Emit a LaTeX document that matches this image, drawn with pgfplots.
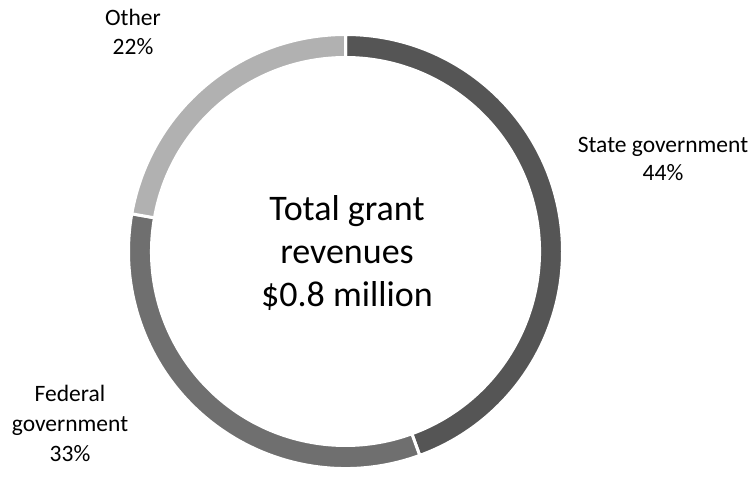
\documentclass[border=0pt]{standalone}
\usepackage{pgfplots}
\pgfplotsset{compat=1.18}
\usepackage{pgfplotstable}
\usetikzlibrary{calc}
\usepackage{fontspec}
\setmainfont{Carlito}
\definecolor{cState}{HTML}{555555}
\definecolor{cFederal}{HTML}{6F6F6F}
\definecolor{cOther}{HTML}{B1B1B1}
\pgfplotstableread[col sep=comma]{
name,share
State government,44.4
Federal government,33.3
Other,22.2
}\grants
\def\cx{345.5}\def\cy{218.5}\def\ro{217}\def\ri{194}
\newcommand\seg[3]{%
  \filldraw[fill=#3, draw=white, line width=3pt]
    ($(axis cs:\cx,\cy)+(#1:\ro pt)$) arc[start angle=#1, end angle=#2, radius=\ro pt]
    -- ($(axis cs:\cx,\cy)+(#2:\ri pt)$) arc[start angle=#2, end angle=#1, radius=\ri pt] -- cycle;}
\begin{document}
\begin{tikzpicture}
\pgfplotstablegetelem{0}{share}\of\grants \let\vA\pgfplotsretval
\pgfplotstablegetelem{1}{share}\of\grants \let\vB\pgfplotsretval
\pgfplotstablegetelem{2}{share}\of\grants \let\vC\pgfplotsretval
\pgfmathsetmacro{\tot}{\vA+\vB+\vC}
\pgfmathsetmacro{\aA}{90}
\pgfmathsetmacro{\aB}{\aA-360*\vA/\tot}
\pgfmathsetmacro{\aC}{\aB-360*\vB/\tot}
\pgfmathsetmacro{\aD}{\aC-360*\vC/\tot}
\begin{axis}[
  scale only axis, width=755pt, height=470pt,
  xmin=0, xmax=755, ymin=0, ymax=470,
  hide axis, clip=false,
]
\path (axis cs:0,0) rectangle (axis cs:755,470);
\seg{\aA}{\aB}{cState}
\seg{\aB}{\aC}{cFederal}
\seg{\aC}{\aD}{cOther}
\node[align=center, font=\fontsize{36}{43}\selectfont, text=black] at (axis cs:347,217)
  {Total grant\\revenues\\\$0.8 million};
\node[align=center, font=\fontsize{23.5}{28}\selectfont, text=black] at (axis cs:663,311)
  {State government\\44\%};
\node[align=center, font=\fontsize{23.5}{30}\selectfont, text=black] at (axis cs:70,47)
  {Federal\\government\\33\%};
\node[align=center, font=\fontsize{23.5}{29}\selectfont, text=black] at (axis cs:133,438)
  {Other\\22\%};
\end{axis}
\end{tikzpicture}
\end{document}
